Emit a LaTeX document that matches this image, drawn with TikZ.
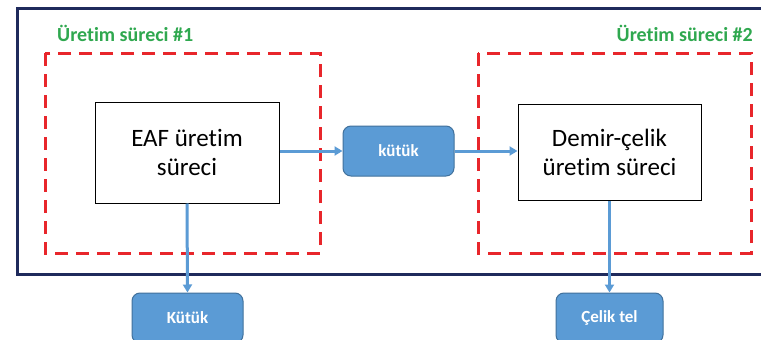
\documentclass[tikz,border=0pt]{standalone}
\usepackage{fontspec}
\setmainfont{Carlito}[RawFeature=-liga]
\usetikzlibrary{arrows.meta}
\definecolor{navy}{HTML}{1F2A5C}
\definecolor{rdash}{HTML}{E8262B}
\definecolor{grn}{HTML}{2FA84F}
\definecolor{bfill}{HTML}{5B9BD5}
\definecolor{bdraw}{HTML}{41719C}
\tikzset{
  procbox/.style={draw=black, line width=1pt, fill=white, align=center, font=\fontsize{25}{29}\selectfont, inner sep=0pt},
  itembox/.style={draw=bdraw, line width=1pt, fill=bfill, rounded corners=8pt, text=white, font=\bfseries\fontsize{17}{19}\selectfont, inner sep=0pt},
  grouplbl/.style={text=grn, font=\bfseries\fontsize{20}{22}\selectfont, inner sep=0pt},
  groupbox/.style={draw=rdash, line width=3pt, dash pattern=on 13pt off 8pt},
  flow/.style={draw=bfill, line width=3pt, -{Triangle[length=8pt,width=9pt]}}
}
\begin{document}
\begin{tikzpicture}[x=1pt,y=-1pt]
\useasboundingbox (0,0) rectangle (761,340);
\fill[white] (0,0) rectangle (761,340);
% outer frame
\draw[navy, line width=3pt] (768,8) -- (17,8) -- (17,274) -- (768,274);
% group boxes
\draw[groupbox] (45,53) rectangle (320,253);
\draw[groupbox] (478,53) rectangle (751,253);
\node[grouplbl, anchor=west] (g1) at (57,33) {Üretim süreci \#1};
\node[grouplbl, anchor=east] (g2) at (753,33) {Üretim süreci \#2};
% process boxes
\node[procbox, minimum width=184pt, minimum height=101pt] (eaf) at (187,152.5) {EAF üretim\\süreci};
\node[procbox, minimum width=183pt, minimum height=96pt] (dc) at (609.5,152) {Demir-çelik\\üretim süreci};
% items
\node[itembox, minimum width=111pt, minimum height=50pt] (k1) at (398.5,151) {kütük};
\node[itembox, minimum width=111pt, minimum height=50pt] (k2) at (187.5,318) {Kütük};
\node[itembox, minimum width=107pt, minimum height=50pt] (ct) at (609.5,318) {Çelik tel};
% flows
\draw[flow] (eaf.east |- k1.west) -- (k1.west);
\draw[flow] (k1.east) -- (dc.west |- k1.east);
\draw[flow] (eaf.south) -- (k2.north);
\draw[flow] (dc.south) -- (ct.north);
\end{tikzpicture}
\end{document}
